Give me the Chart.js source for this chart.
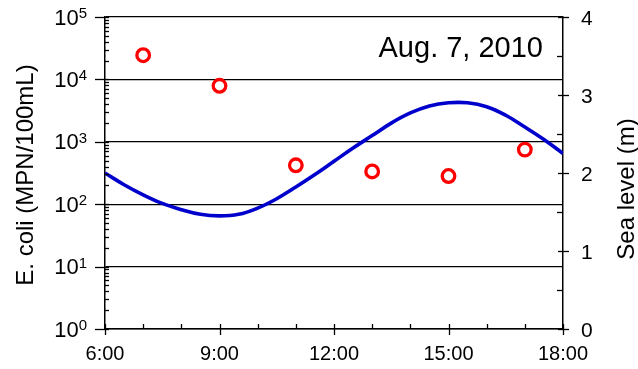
<!DOCTYPE html>
<html>
<head>
<meta charset="utf-8">
<script src="https://cdn.jsdelivr.net/npm/chart.js@4.4.1/dist/chart.umd.min.js"></script>
<style>
  html, body { margin: 0; padding: 0; background: #ffffff; }
  #wrap { width: 638px; height: 369px; position: relative; }
</style>
</head>
<body>
<div id="wrap"><canvas id="c" width="638" height="369"></canvas></div>
<script>
// ---- data ----
const sampleHours = [7, 9, 11, 13, 15, 17];
const ecoliValues = [24400, 7900, 420, 335, 283, 750];

const tideHours = [6, 6.5, 7, 7.5, 8, 8.5, 9, 9.5, 10, 10.5, 11, 11.5, 12,
                   12.5, 13, 13.5, 14, 14.5, 15, 15.5, 16, 16.5, 17, 17.5, 18];
const seaLevel = [2.00, 1.85, 1.72, 1.61, 1.53, 1.47, 1.45, 1.47, 1.55, 1.67, 1.82, 1.98, 2.15,
                  2.32, 2.48, 2.64, 2.77, 2.86, 2.90, 2.90, 2.85, 2.74, 2.59, 2.43, 2.25];

const xTickHours = [6, 9, 12, 15, 18];
const yDecades = [1, 10, 100, 1000, 10000, 100000];
const y2Ticks = [0, 1, 2, 3, 4];

const leftTitle = 'E. coli (MPN/100mL)';
const rightTitle = 'Sea level (m)';
const dateNote = 'Aug. 7, 2010';

const FONT = '"Liberation Sans", Arial, sans-serif';

const decorPlugin = {
  id: 'decor',
  afterDraw(chart) {
    const ctx = chart.ctx;
    const a = chart.chartArea;
    const x = chart.scales.x, y = chart.scales.y, y2 = chart.scales.y2;
    ctx.save();
    ctx.strokeStyle = '#000';
    ctx.lineWidth = 1.3;
    ctx.fillStyle = '#000';
    // x ticks
    for (let h = 6; h <= 18; h++) {
      const px = Math.round(x.getPixelForValue(h)) + 0.5;
      ctx.beginPath();
      if (h % 3 === 0) { ctx.moveTo(px, a.bottom - 5); ctx.lineTo(px, a.bottom + 6); }
      else { ctx.moveTo(px, a.bottom - 5); ctx.lineTo(px, a.bottom); }
      ctx.stroke();
    }
    // left y ticks
    for (let e = 0; e <= 5; e++) {
      const py = Math.round(y.getPixelForValue(Math.pow(10, e))) + 0.5;
      ctx.beginPath(); ctx.moveTo(a.left - 10, py); ctx.lineTo(a.left + 4, py); ctx.stroke();
      if (e < 5) {
        for (let k = 2; k <= 9; k++) {
          const pm = Math.round(y.getPixelForValue(k * Math.pow(10, e))) + 0.5;
          ctx.beginPath(); ctx.moveTo(a.left, pm); ctx.lineTo(a.left + 4, pm); ctx.stroke();
        }
      }
    }
    // right y ticks
    for (let v = 0; v <= 4; v += 0.5) {
      const py = Math.round(y2.getPixelForValue(v)) + 0.5;
      ctx.beginPath();
      if (Number.isInteger(v)) { ctx.moveTo(a.right - 5, py); ctx.lineTo(a.right + 6, py); }
      else { ctx.moveTo(a.right - 6, py); ctx.lineTo(a.right, py); }
      ctx.stroke();
    }
    // x labels
    ctx.font = '20px ' + FONT;
    ctx.textAlign = 'center';
    ctx.textBaseline = 'alphabetic';
    xTickHours.forEach(h => {
      ctx.fillText(h + ':00', x.getPixelForValue(h), a.bottom + 31);
    });
    // left labels with exponent
    yDecades.forEach(v => {
      const e = Math.round(Math.log10(v));
      const py = y.getPixelForValue(v);
      ctx.font = '15px ' + FONT;
      const ew = ctx.measureText(String(e)).width;
      ctx.textAlign = 'left';
      ctx.textBaseline = 'alphabetic';
      const expX = a.left - 18 - ew;
      ctx.fillText(String(e), expX, py + 1);
      ctx.font = '22px ' + FONT;
      ctx.textAlign = 'right';
      ctx.fillText('10', expX, py + 7.5);
    });
    // right labels
    ctx.font = '21px ' + FONT;
    ctx.textAlign = 'left';
    y2Ticks.forEach(v => {
      ctx.fillText(String(v), a.right + 18, y2.getPixelForValue(v) + 8);
    });
    // titles
    ctx.font = '24px ' + FONT;
    ctx.textAlign = 'center';
    ctx.save();
    ctx.translate(33, 175);
    ctx.rotate(-Math.PI / 2);
    ctx.fillText(leftTitle, 0, 0);
    ctx.restore();
    ctx.save();
    ctx.translate(634, 189);
    ctx.rotate(-Math.PI / 2);
    ctx.fillText(rightTitle, 0, 0);
    ctx.restore();
    // date note
    ctx.font = '29px ' + FONT;
    ctx.textAlign = 'right';
    ctx.fillText(dateNote, 543, 57);
    ctx.restore();
  }
};

new Chart(document.getElementById('c'), {
  type: 'scatter',
  data: {
    datasets: [
      {
        label: 'Sea level',
        type: 'line',
        data: tideHours.map((h, i) => ({ x: h, y: seaLevel[i] })),
        yAxisID: 'y2',
        borderColor: 'rgb(0,0,204)',
        borderWidth: 3.6,
        pointRadius: 0,
        fill: false,
        tension: 0.4,
        order: 2
      },
      {
        label: 'E. coli',
        data: sampleHours.map((h, i) => ({ x: h, y: ecoliValues[i] })),
        yAxisID: 'y',
        pointRadius: 6.3,
        pointBorderWidth: 3.3,
        pointBorderColor: '#ff0000',
        pointBackgroundColor: 'rgba(255,255,255,0)',
        showLine: false,
        order: 1
      }
    ]
  },
  options: {
    responsive: false,
    animation: false,
    events: [],
    layout: { padding: { top: 17, left: 0, right: 0, bottom: 0 } },
    plugins: { legend: { display: false }, tooltip: { enabled: false } },
    scales: {
      x: {
        type: 'linear', min: 6, max: 18,
        grid: { drawOnChartArea: false, drawTicks: false },
        border: { display: true, color: '#000', width: 1.5 },
        ticks: { display: false, stepSize: 1 },
        afterFit(s) { s.height = 40; }
      },
      y: {
        type: 'logarithmic', position: 'left', min: 1, max: 100000,
        afterBuildTicks(s) { s.ticks = yDecades.map(v => ({ value: v })); },
        grid: { color: '#000', lineWidth: 1.2, drawTicks: false },
        border: { display: true, color: '#000', width: 1.5 },
        ticks: { display: false },
        afterFit(s) { s.width = 105; }
      },
      y2: {
        type: 'linear', position: 'right', min: 0, max: 4,
        grid: { drawOnChartArea: false, drawTicks: false },
        border: { display: true, color: '#000', width: 1.5 },
        ticks: { display: false, stepSize: 1 },
        afterFit(s) { s.width = 75; }
      }
    }
  },
  plugins: [decorPlugin]
});
</script>
</body>
</html>
